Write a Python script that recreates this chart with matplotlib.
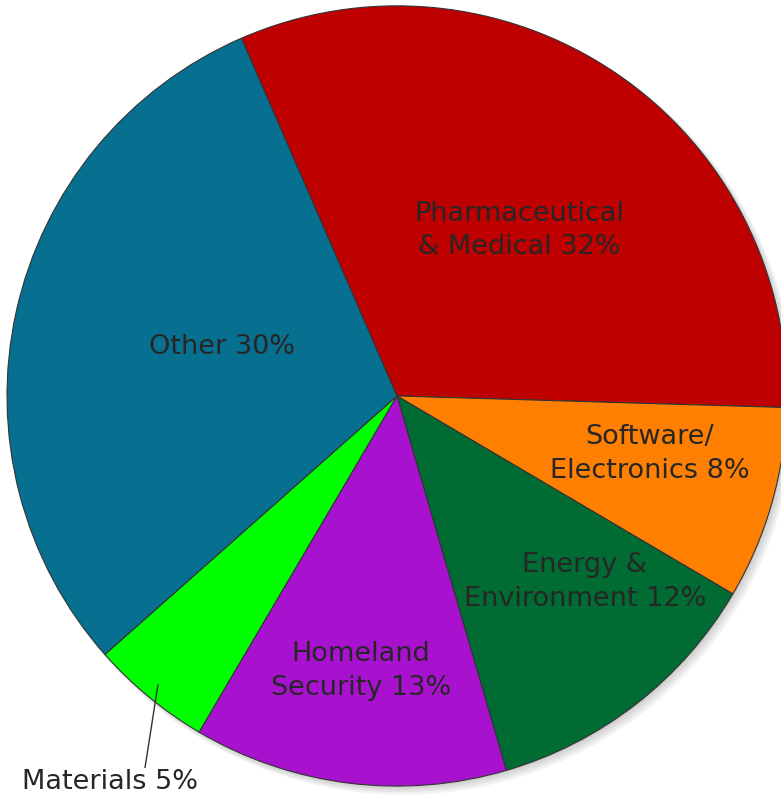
import matplotlib
matplotlib.use("Agg")
import matplotlib.pyplot as plt
from matplotlib.patches import Circle

categories = ["Pharmaceutical\n& Medical", "Software/\nElectronics", "Energy &\nEnvironment",
              "Homeland\nSecurity", "Materials", "Other"]
values = [32, 8, 12, 13, 5, 30]
colors = ["#BE0000", "#FF8000", "#006B33", "#A812CF", "#00FF00", "#077090"]

fig = plt.figure(figsize=(7.81, 7.97), dpi=100)
ax = fig.add_axes([0, 0, 1, 1])

# soft shadow
for i, a in enumerate([0.05, 0.05, 0.05, 0.05]):
    off = 0.004 * (i + 1)
    ax.add_patch(Circle((off, -off), 1.0 + 0.002 * i, color="black", alpha=a, zorder=0, lw=0))

wedges, _ = ax.pie(values, colors=colors, startangle=113.5, counterclock=False,
                   radius=1.0, center=(0, 0),
                   wedgeprops=dict(edgecolor="#333333", linewidth=0.8), frame=True)
ax.set_xlim(-1.018, 0.985)
ax.set_ylim(-1.028, 1.015)
ax.set_aspect("auto")
ax.axis("off")

fs = 19.5
tc = "#262626"
pos = [(0.315, 0.424), (0.649, -0.149), (0.482, -0.477), (-0.092, -0.705), (-0.736, -0.99), (-0.449, 0.125)]
for cat, v, p in zip(categories, values, pos):
    ax.text(p[0], p[1], f"{cat} {v}%", ha="center", va="center", fontsize=fs, color=tc,
            linespacing=1.38, family="DejaVu Sans")

# Materials leader line
ax.plot([-0.613, -0.646], [-0.741, -0.952], color="#333333", lw=1.0)

fig.savefig("out.png", dpi=100)
